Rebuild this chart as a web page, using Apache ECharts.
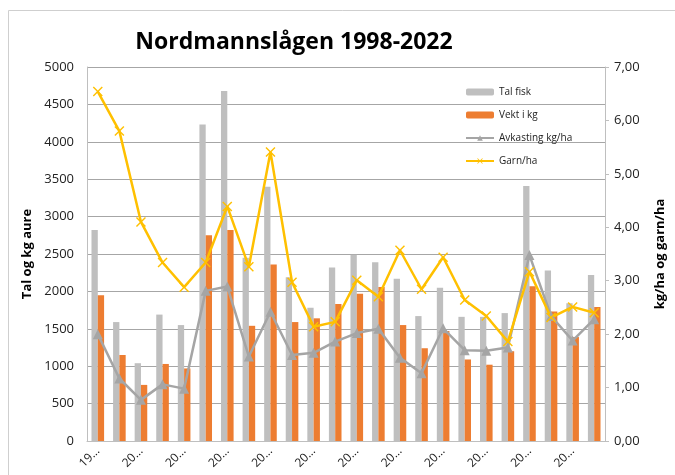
<!DOCTYPE html>
<html>
<head>
<meta charset="utf-8">
<script src="https://cdn.jsdelivr.net/npm/echarts@6/dist/echarts.min.js"></script>
<style>
  html, body { margin: 0; padding: 0; background: #fff; }
  #chart { width: 675px; height: 475px; }
</style>
</head>
<body>
<div id="chart"></div>
<script>
// år (24 søyler, 2020 manglar)
var years = ['1998','1999','2000','2001','2002','2003','2004','2005','2006','2007','2008','2009',
             '2010','2011','2012','2013','2014','2015','2016','2017','2018','2019','2021','2022']
var talFisk = [2820,1590,1040,1690,1550,4230,4680,2450,3400,2190,1780,2320,
               2490,2390,2170,1670,2050,1660,1660,1710,3410,2280,1840,2220]
var vektKg = [1950,1150,750,1030,970,2750,2820,1540,2360,1590,1640,1830,
              1970,2060,1550,1240,1470,1090,1020,1200,2070,1730,1390,1790]
var avkasting = [2.00,1.17,0.77,1.06,0.98,2.81,2.89,1.58,2.42,1.61,1.65,1.86,
                 2.02,2.10,1.56,1.27,2.11,1.70,1.69,1.75,3.48,2.34,1.88,2.28]
var garnHa = [6.54,5.80,4.10,3.34,2.88,3.34,4.39,3.26,5.41,2.97,2.14,2.23,
              3.01,2.70,3.57,2.84,3.44,2.64,2.34,1.86,3.17,2.31,2.51,2.40]

var font = 'Open Sans'
var xMark = 'path://M0,1L1,0L5,4L9,0L10,1L6,5L10,9L9,10L5,6L1,10L0,9L4,5Z'

var chart = echarts.init(document.getElementById('chart'))
var option = {
  animation: false,
  textStyle: { fontFamily: font },
  title: {
    text: 'Nordmannslågen 1998-2022',
    left: 289,
    textAlign: 'center',
    top: 26,
    textStyle: { fontSize: 23, fontWeight: 'bold', color: '#000', fontFamily: font }
  },
  graphic: [{
    type: 'rect',
    shape: { x: 8.5, y: 10.5, width: 720, height: 520 },
    style: { fill: 'none', stroke: '#cfcfcf', lineWidth: 1 },
    z: -1
  }],
  legend: {
    orient: 'vertical',
    left: 460,
    top: 82,
    itemWidth: 28,
    itemHeight: 7,
    itemGap: 13,
    textStyle: { fontSize: 10, color: '#222' },
    data: ['Tal fisk', 'Vekt i kg', 'Avkasting kg/ha', 'Garn/ha']
  },
  grid: { left: 87, right: 65, top: 67, bottom: 34 },
  xAxis: {
    type: 'category',
    data: years,
    axisLine: { lineStyle: { color: '#bfbfbf', width: 1 } },
    axisTick: { show: false },
    axisLabel: {
      interval: 1,
      rotate: 45,
      margin: 8,
      fontSize: 12,
      color: '#222',
      padding: [0, 0, 0, 0],
      formatter: function (v) { return v.slice(0, 2) + '...' }
    }
  },
  yAxis: [{
    type: 'value',
    min: 0,
    max: 5000,
    interval: 500,
    name: 'Tal og kg aure',
    nameLocation: 'middle',
    nameGap: 46,
    nameTextStyle: { fontSize: 13, fontWeight: 'bold', color: '#000' },
    axisLine: { show: true, lineStyle: { color: '#bfbfbf' } },
    axisTick: { show: false },
    axisLabel: {
      fontSize: 13,
      color: '#222',
      margin: 13,
      formatter: function (v) { return String(v) }
    },
    splitLine: { lineStyle: { color: '#a6a6a6', width: 1 } }
  }, {
    type: 'value',
    min: 0,
    max: 7,
    interval: 1,
    name: 'kg/ha og garn/ha',
    nameLocation: 'middle',
    nameGap: 49,
    nameRotate: 90,
    nameTextStyle: { fontSize: 13, fontWeight: 'bold', color: '#000' },
    axisLine: { show: true, lineStyle: { color: '#bfbfbf' } },
    axisTick: { show: true, length: 4, lineStyle: { color: '#bfbfbf' } },
    axisLabel: {
      fontSize: 13,
      color: '#222',
      margin: 9,
      formatter: function (v) { return v.toFixed(2).replace('.', ',') }
    },
    splitLine: { show: false }
  }],
  series: [{
    name: 'Tal fisk',
    type: 'bar',
    yAxisIndex: 0,
    barWidth: 6.3,
    barGap: '0%',
    itemStyle: { color: '#bfbfbf' },
    data: talFisk
  }, {
    name: 'Vekt i kg',
    type: 'bar',
    yAxisIndex: 0,
    barWidth: 6.3,
    barGap: '0%',
    itemStyle: { color: '#ed7d31' },
    data: vektKg
  }, {
    name: 'Avkasting kg/ha',
    type: 'line',
    yAxisIndex: 1,
    symbol: 'triangle',
    symbolSize: 10,
    lineStyle: { color: '#a5a5a5', width: 2.5 },
    itemStyle: { color: '#a5a5a5' },
    data: avkasting
  }, {
    name: 'Garn/ha',
    type: 'line',
    yAxisIndex: 1,
    symbol: xMark,
    symbolSize: 10,
    lineStyle: { color: '#ffc000', width: 2.5 },
    itemStyle: { color: '#ffc000' },
    data: garnHa
  }]
}
chart.setOption(option)
</script>
</body>
</html>
